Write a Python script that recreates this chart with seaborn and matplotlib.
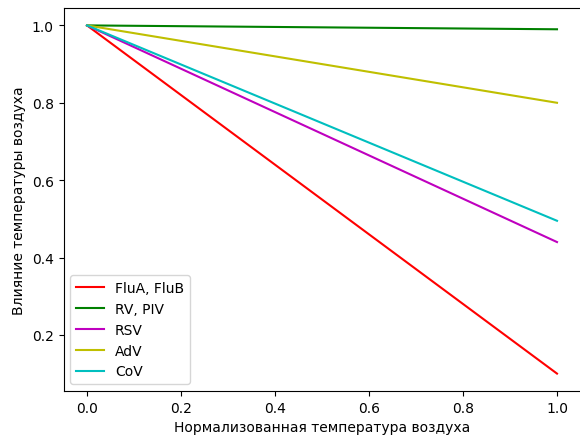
import matplotlib
matplotlib.use("Agg")
import matplotlib.pyplot as plt
import seaborn as sns
import pandas as pd

# Normalized air temperature and the resulting influence for each virus group
temperature = [0.0, 1.0]
viruses = ["FluA, FluB", "RV, PIV", "RSV", "AdV", "CoV"]
flu_effect = [1.0, 0.10]
rv_piv_effect = [1.0, 0.99]
rsv_effect = [1.0, 0.44]
adv_effect = [1.0, 0.80]
cov_effect = [1.0, 0.495]
colors = ["r", "g", "m", "y", "c"]

effects = [flu_effect, rv_piv_effect, rsv_effect, adv_effect, cov_effect]
rows = []
for name, vals in zip(viruses, effects):
    for t, v in zip(temperature, vals):
        rows.append({"t": t, "effect": v, "virus": name})
df = pd.DataFrame(rows)

fig = plt.figure(figsize=(5.8, 4.39), dpi=100)
# the right edge of the axes sits at the figure border
ax = fig.add_axes([63.5 / 580, 47 / 439, 517 / 580, 383 / 439])

sns.lineplot(data=df, x="t", y="effect", hue="virus", hue_order=viruses,
             palette=dict(zip(viruses, colors)), linewidth=1.5, ax=ax)
ax.spines["right"].set_visible(False)

ax.set_xlabel("Нормализованная температура воздуха")
ax.set_ylabel("Влияние температуры воздуха")
ax.set_xticks([0.0, 0.2, 0.4, 0.6, 0.8, 1.0])
ax.set_yticks([0.2, 0.4, 0.6, 0.8, 1.0])
ax.legend(loc="lower left")

fig.savefig("out.png", dpi=100)
